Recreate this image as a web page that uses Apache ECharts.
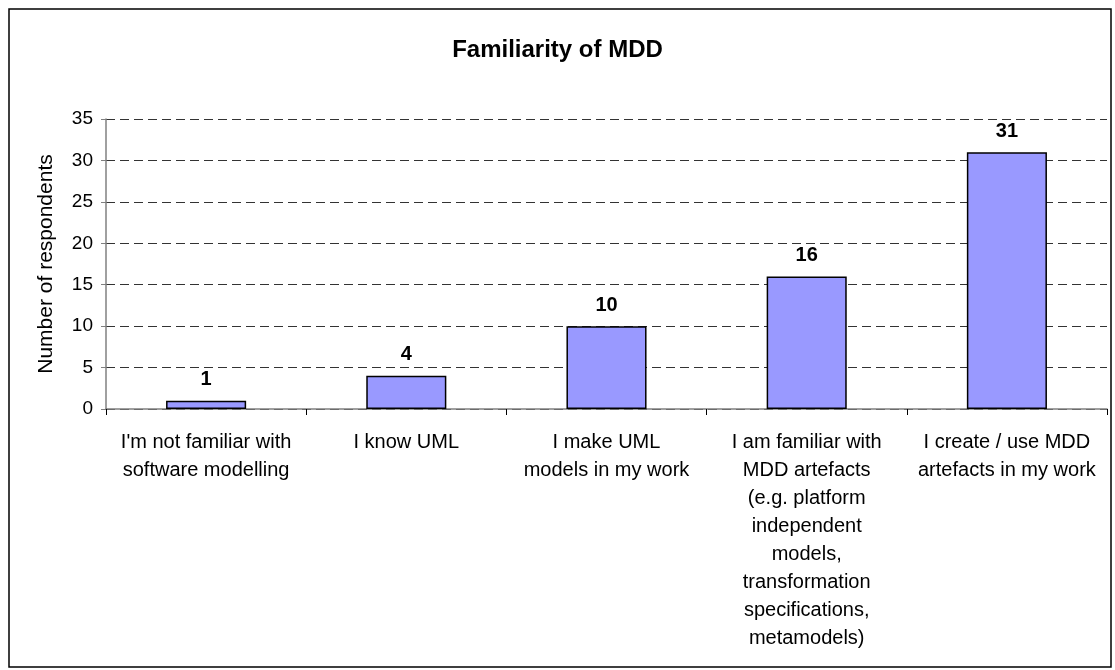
<!DOCTYPE html>
<html>
<head>
<meta charset="utf-8">
<script src="https://cdn.jsdelivr.net/npm/echarts@6/dist/echarts.min.js"></script>
<style>
  html, body { margin: 0; padding: 0; background: #fff; }
  #chart { width: 1115px; height: 670px; }
</style>
</head>
<body>
<div id="chart"></div>
<script>
const categories = [
  "I'm not familiar with\nsoftware modelling",
  'I know UML',
  'I make UML\nmodels in my work',
  'I am familiar with\nMDD artefacts\n(e.g. platform\nindependent\nmodels,\ntransformation\nspecifications,\nmetamodels)',
  'I create / use MDD\nartefacts in my work',
];
const respondents = [1, 4, 10, 16, 31];

const chart = echarts.init(document.getElementById('chart'));

chart.setOption({
  animation: false,
  textStyle: { fontFamily: 'Liberation Sans, Arial, sans-serif' },
  title: {
    text: 'Familiarity of MDD',
    left: 'center',
    top: 33,
    textStyle: { fontSize: 24, fontWeight: 'bold', color: '#000' },
  },
  graphic: [
    {
      type: 'rect',
      shape: { x: 9, y: 9, width: 1102, height: 658 },
      style: { fill: 'none', stroke: '#000', lineWidth: 1.5 },
      silent: true,
    },
  ],
  grid: { left: 106, right: 8, top: 119, bottom: 261 },
  xAxis: {
    type: 'category',
    data: categories,
    axisLine: { lineStyle: { color: '#808080', width: 1.5 } },
    axisTick: { show: true, length: 6, lineStyle: { color: '#000' } },
    axisLabel: {
      color: '#000',
      fontSize: 20,
      lineHeight: 28,
      margin: 19,
      interval: 0,
    },
  },
  yAxis: {
    type: 'value',
    min: 0,
    max: 35,
    interval: 5,
    name: 'Number of respondents',
    nameLocation: 'middle',
    nameGap: 49,
    nameTextStyle: { color: '#000', fontSize: 21 },
    axisLine: { show: true, lineStyle: { color: '#808080', width: 1.5 } },
    axisTick: { show: true, length: 5, lineStyle: { color: '#808080' } },
    axisLabel: { color: '#000', fontSize: 19, margin: 13 },
    splitLine: {
      lineStyle: { color: '#333', type: [9, 5], width: 1 },
    },
  },
  series: [
    {
      type: 'bar',
      data: respondents,
      barWidth: '40%',
      itemStyle: { color: '#9999FF', borderColor: '#000', borderWidth: 1.5 },
      label: {
        show: true,
        position: 'top',
        distance: 11,
        color: '#000',
        fontSize: 20,
        fontWeight: 'bold',
      },
    },
  ],
});
</script>
</body>
</html>
